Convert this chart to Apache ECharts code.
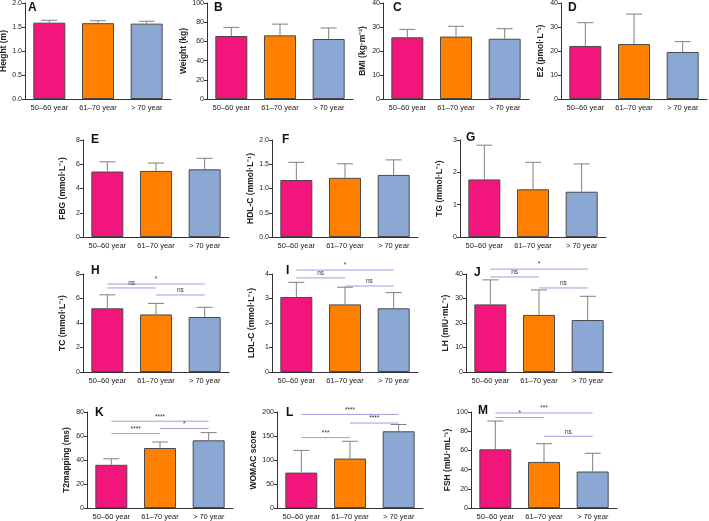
<!DOCTYPE html>
<html><head><meta charset="utf-8">
<script src="https://cdn.jsdelivr.net/npm/echarts@6/dist/echarts.min.js"></script>
<style>html,body{margin:0;padding:0;background:#fff}#c{width:709px;height:521px}</style>
</head><body><div id="c"></div>
<script>
const categories = ['50\u201360 year', '61\u201370 year', '> 70 year'];
const letters = ['A','B','C','D','E','F','G','H','I','J','K','L','M'];
const yNames = ['Height (m)','Weight (kg)','BMI (kg\u00b7m\u207b\u00b2)','E2 (pmol\u00b7L\u207b\u00b9)',
  'FBG (mmol\u00b7L\u207b\u00b9)','HDL-C (mmol\u00b7L\u207b\u00b9)','TG (mmol\u00b7L\u207b\u00b9)',
  'TC (mmol\u00b7L\u207b\u00b9)','LDL-C (mmol\u00b7L\u207b\u00b9)','LH (mIU\u00b7mL\u207b\u00b9)',
  'T2mapping (ms)','WOMAC score','FSH (mIU\u00b7mL\u207b\u00b9)'];
const yMax = [2, 100, 40, 40, 8, 2, 3, 8, 4, 40, 80, 200, 100];
const yStep = [0.5, 20, 10, 10, 2, 0.5, 1, 2, 1, 10, 20, 50, 20];
const yDecimals = [1,0,0,0,0,1,0,0,0,0,0,0,0];

const heightMean = [1.59, 1.58, 1.57];  const heightSD = [0.05, 0.05, 0.05];
const weightMean = [65.6, 66.3, 62.5];  const weightSD = [9.0, 11.7, 11.5];
const bmiMean = [25.7, 26.0, 25.1];     const bmiSD = [3.3, 4.3, 4.2];
const e2Mean = [22.1, 22.9, 19.6];      const e2SD = [9.7, 12.5, 4.3];
const fbgMean = [5.4, 5.45, 5.58];      const fbgSD = [0.8, 0.65, 0.91];
const hdlMean = [1.175, 1.22, 1.28];    const hdlSD = [0.365, 0.29, 0.31];
const tgMean = [1.78, 1.475, 1.40];     const tgSD = [1.06, 0.835, 0.86];
const tcMean = [5.2, 4.7, 4.49];        const tcSD = [1.1, 0.9, 0.79];
const ldlMean = [3.06, 2.76, 2.60];     const ldlSD = [0.60, 0.70, 0.64];
const lhMean = [27.6, 23.3, 21.2];      const lhSD = [10.0, 10.2, 9.7];
const t2Mean = [36, 50, 56.4];          const t2SD = [5, 5, 6.4];
const womacMean = [73.7, 103, 159.8];   const womacSD = [46.3, 36, 14.2];
const fshMean = [61.1, 48, 38];         const fshSD = [29.5, 19, 19];

// significance brackets: [fromIndex, toIndex, yValue, label]
const sigH = [[0, 2, 7.18, '*'], [0, 1, 6.86, 'ns'], [1, 2, 6.29, 'ns']];
const sigI = [[0, 2, 4.16, '*'], [0, 1, 3.84, 'ns'], [1, 2, 3.51, 'ns']];
const sigJ = [[0, 2, 42.0, '*'], [0, 1, 38.8, 'ns'], [1, 2, 34.3, 'ns']];
const sigK = [[0, 2, 72.3, '****'], [1, 2, 66.2, '*'], [0, 1, 62, '****']];
const sigL = [[0, 2, 195, '****'], [1, 2, 177, '****'], [0, 1, 146.7, '***']];
const sigM = [[0, 2, 99, '***'], [0, 1, 94.2, '*'], [1, 2, 74.7, 'ns']];

const means = [heightMean, weightMean, bmiMean, e2Mean, fbgMean, hdlMean, tgMean, tcMean, ldlMean, lhMean, t2Mean, womacMean, fshMean];
const sds = [heightSD, weightSD, bmiSD, e2SD, fbgSD, hdlSD, tgSD, tcSD, ldlSD, lhSD, t2SD, womacSD, fshSD];
const sigs = [null, null, null, null, null, null, null, sigH, sigI, sigJ, sigK, sigL, sigM];

// layout
const gridLeft = [25, 207, 383, 561, 83, 272, 460, 83, 272, 466, 87, 277, 471];
const rowOf = [0,0,0,0,1,1,1,2,2,2,3,3,3];
const rowTop = [3, 140, 274, 412];
const rowHeight = [96, 97, 98, 96];
const gridWidth = 146;
const letterOffset = [[3, -1], [7, -1], [10, -1], [7, -1], [8, -6], [10, -6], [6, -8], [8, -9], [14, -9], [8, -7], [8, -5], [9, -5], [7, -7]];

const barColors = ['#F2167C', '#FF8000', '#8AA8D3'];
const font = 'Arial, "Liberation Sans", Helvetica, sans-serif';

const grids = [], xAxes = [], yAxes = [], series = [], titles = [];
for (let i = 0; i < 13; i++) {
  const r = rowOf[i];
  grids.push({left: gridLeft[i], top: rowTop[r], width: gridWidth, height: rowHeight[r], containLabel: false, outerBoundsMode: 'none'});
  xAxes.push({type: 'category', gridIndex: i, data: categories,
    axisLine: {lineStyle: {color: '#333', width: 1}},
    axisTick: {alignWithLabel: true, length: 3, lineStyle: {color: '#333'}},
    axisLabel: {fontSize: 7.5, color: '#222', fontFamily: font, margin: 5, interval: 0}});
  yAxes.push({type: 'value', gridIndex: i, min: 0, max: yMax[i], interval: yStep[i],
    name: yNames[i], nameLocation: 'middle', nameGap: 16, nameRotate: 90,
    nameTextStyle: {fontSize: 8.5, fontWeight: 'bold', color: '#222', fontFamily: font},
    axisLine: {show: true, lineStyle: {color: '#333', width: 1}},
    axisTick: {show: true, length: 3, lineStyle: {color: '#333'}},
    splitLine: {show: false},
    axisLabel: {fontSize: 7, color: '#222', fontFamily: font, margin: 3,
      formatter: (v) => v.toFixed(yDecimals[i])}});
  titles.push({text: letters[i], left: gridLeft[i] + letterOffset[i][0], top: rowTop[r] + letterOffset[i][1],
    padding: 0, textStyle: {fontSize: 12, fontWeight: 'bold', color: '#111', fontFamily: font}});
  series.push({type: 'bar', xAxisIndex: i, yAxisIndex: i, barWidth: 32,
    data: means[i].map((v, k) => ({value: v, itemStyle: {color: barColors[k]}})),
    itemStyle: {borderColor: '#4a4a4a', borderWidth: 1}, silent: true, animation: false});
  const m = means[i], s = sds[i];
  series.push({type: 'custom', xAxisIndex: i, yAxisIndex: i, z: 3, silent: true, animation: false,
    data: m.map((v, k) => [k, v, s[k]]),
    renderItem: function (params, api) {
      const x = api.value(0), mv = api.value(1), sv = api.value(2);
      const p0 = api.coord([x, mv]), p1 = api.coord([x, mv + sv]);
      const half = 8;
      return {type: 'group', children: [
        {type: 'line', shape: {x1: p0[0], y1: p0[1], x2: p1[0], y2: p1[1]}, style: {stroke: '#808080', lineWidth: 1}},
        {type: 'line', shape: {x1: p1[0] - half, y1: p1[1], x2: p1[0] + half, y2: p1[1]}, style: {stroke: '#808080', lineWidth: 1}}
      ]};
    }});
  if (sigs[i]) {
    const sg = sigs[i];
    series.push({type: 'custom', xAxisIndex: i, yAxisIndex: i, z: 4, silent: true, animation: false, clip: false,
      data: sg.map(d => [d[0], d[1], d[2]]),
      renderItem: function (params, api) {
        const a = api.coord([api.value(0), api.value(2)]);
        const b = api.coord([api.value(1), api.value(2)]);
        return {type: 'group', children: [
          {type: 'line', shape: {x1: a[0], y1: a[1], x2: b[0], y2: b[1]}, style: {stroke: '#9EA0D6', lineWidth: 1}},
          {type: 'text', style: {text: sg[params.dataIndex][3], x: (a[0] + b[0]) / 2, y: a[1] - 1,
            textAlign: 'center', textVerticalAlign: 'bottom', fontSize: 6.5, fill: '#333', fontFamily: font}}
        ]};
      }});
  }
}

const chart = echarts.init(document.getElementById('c'), null, {renderer: 'canvas'});
chart.setOption({animation: false, title: titles, grid: grids, xAxis: xAxes, yAxis: yAxes, series: series});
</script></body></html>
